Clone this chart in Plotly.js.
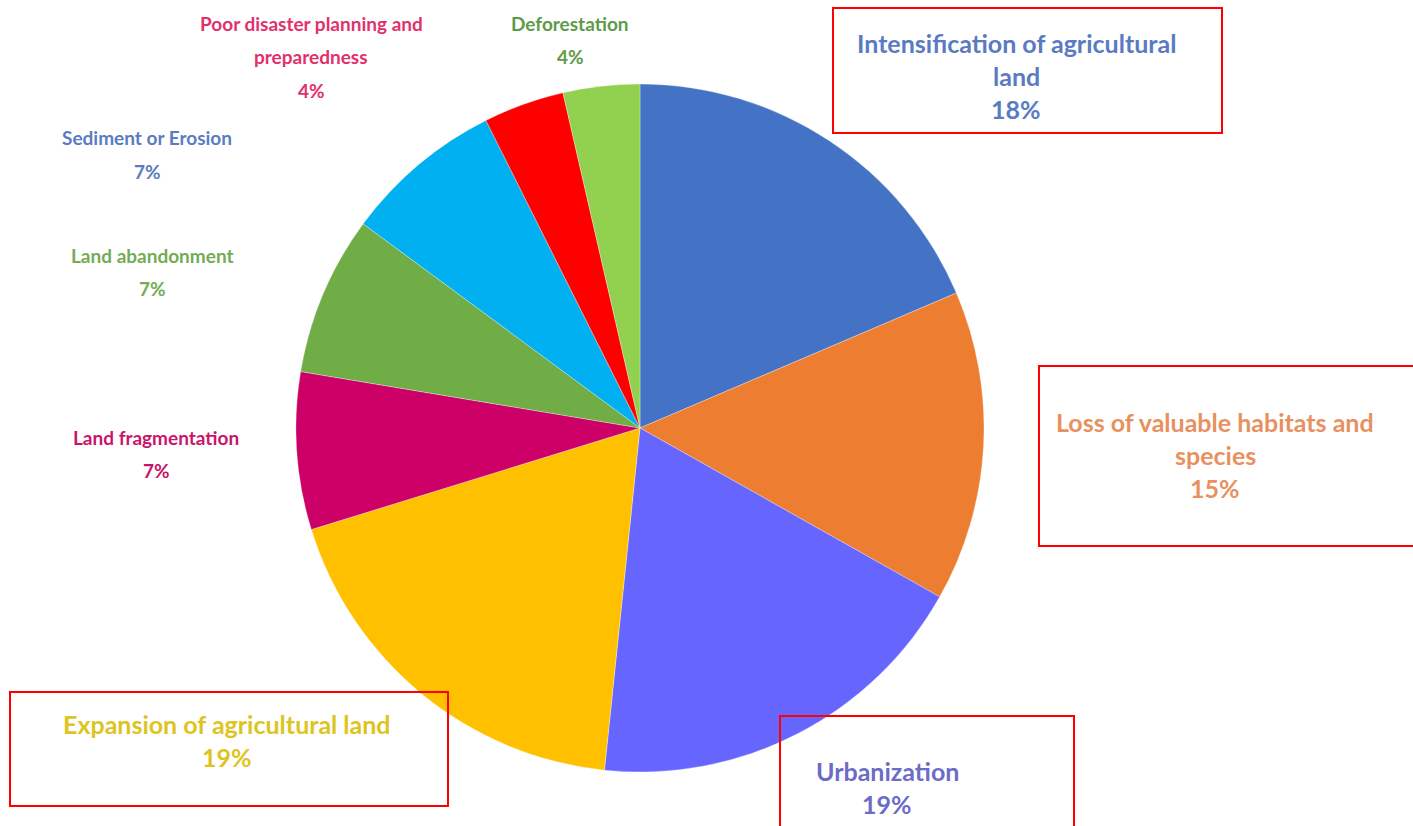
<!DOCTYPE html>
<html>
<head>
<meta charset="utf-8">
<script src="https://cdn.plot.ly/plotly-3.0.1.min.js"></script>
<style>html,body{margin:0;padding:0;background:#fff;}#chart{width:1413px;height:826px;}</style>
</head>
<body>
<div id="chart"></div>
<script>
// Data (clockwise from 12 o'clock)
const categories = [
  "Intensification of agricultural land",
  "Loss of valuable habitats and species",
  "Urbanization",
  "Expansion of agricultural land",
  "Land fragmentation",
  "Land abandonment",
  "Sediment or Erosion",
  "Poor disaster planning and preparedness",
  "Deforestation"
];
const shares = [18.6, 14.6, 18.5, 18.6, 7.4, 7.5, 7.5, 3.8, 3.6];
const pctLabels = ["18%", "15%", "19%", "19%", "7%", "7%", "7%", "4%", "4%"];
// label lines as wrapped in the picture
const labelLines = [
  ["Intensification of agricultural", "land"],
  ["Loss of valuable habitats and", "species"],
  ["Urbanization"],
  ["Expansion of agricultural land"],
  ["Land fragmentation"],
  ["Land abandonment"],
  ["Sediment or Erosion"],
  ["Poor disaster planning and", "preparedness"],
  ["Deforestation"]
];
const boxed = [true, true, true, true, false, false, false, false, false];

// Styling
const sliceColors = ["#4472C4", "#ED7D31", "#6666FF", "#FFC000", "#CC0066", "#70AD47", "#00B0F0", "#FF0000", "#92D050"];
const textColors = ["#5A7BC2", "#E8915F", "#6C6CC8", "#DDC41E", "#C8156A", "#74AC55", "#5A7CC2", "#E2306C", "#5E9A48"];
const W = 1413, H = 826;
// label block anchors (pixel centre of first line) and boxes (pixels)
const anchors = [[1016, 43], [1215, 422], [887, 771], [227, 724], [156, 437], [152, 255], [147, 138], [311, 24], [570, 24]];
const boxes = [[833, 8, 1222, 133], [1039, 366, 1420, 546], [780, 716, 1074, 835], [10, 692, 448, 806], null, null, null, null, null];
const lineGap = 33;

const cx = 640, cy = 428, r = 344;

const trace = {
  type: "pie",
  labels: categories,
  values: shares,
  sort: false,
  direction: "clockwise",
  rotation: 0,
  textinfo: "none",
  textposition: "none",
  hoverinfo: "label+percent",
  marker: {colors: sliceColors, line: {color: "rgba(255,255,255,0.6)", width: 0.5}},
  domain: {x: [(cx - r) / W, (cx + r) / W], y: [(H - cy - r) / H, (H - cy + r) / H]},
  showlegend: false
};

const annotations = [];
const shapes = [];
categories.forEach((c, i) => {
  const lines = labelLines[i].concat([pctLabels[i]]);
  const fsize = boxed[i] ? 25 : 19;
  lines.forEach((t, k) => {
    annotations.push({
      xref: "paper", yref: "paper",
      x: anchors[i][0] / W, y: 1 - (anchors[i][1] + k * lineGap) / H,
      xanchor: "center", yanchor: "middle",
      text: "<b>" + t + "</b>",
      showarrow: false,
      font: {family: "Lato, 'Open Sans', sans-serif", size: fsize, color: textColors[i]}
    });
  });
  if (boxed[i] && boxes[i]) {
    const b = boxes[i];
    shapes.push({type: "rect", xref: "paper", yref: "paper",
      x0: b[0] / W, x1: b[2] / W, y0: 1 - b[3] / H, y1: 1 - b[1] / H,
      line: {color: "#FF0000", width: 2}, fillcolor: "rgba(0,0,0,0)"});
  }
});

const layout = {
  width: W, height: H,
  margin: {l: 0, r: 0, t: 0, b: 0},
  paper_bgcolor: "#ffffff",
  plot_bgcolor: "#ffffff",
  annotations: annotations,
  shapes: shapes,
  showlegend: false
};

Plotly.newPlot("chart", [trace], layout, {displayModeBar: false, staticPlot: true});
</script>
</body>
</html>
